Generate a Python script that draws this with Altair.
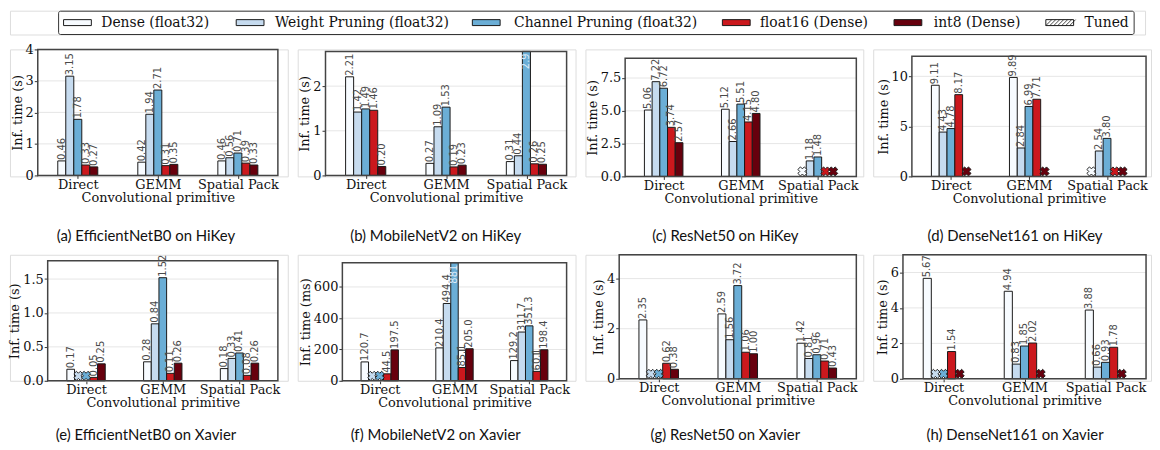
import altair as alt
import pandas as pd

# ---------------- data ----------------
groups = ["Direct", "GEMM", "Spatial Pack"]
series = ["Dense (float32)", "Weight Pruning (float32)", "Channel Pruning (float32)",
          "float16 (Dense)", "int8 (Dense)"]
series_colors = ["#f7fbff", "#c6dbef", "#6baed6", "#cb181d", "#67000d"]

# values per primitive (Direct, GEMM, Spatial Pack) in series order; None = failed (x marker)
effnet_hikey = [[0.46, 3.15, 1.78, 0.33, 0.27], [0.42, 1.94, 2.71, 0.31, 0.35], [0.46, 0.56, 0.71, 0.39, 0.33]]
mobilenet_hikey = [[2.21, 1.42, 1.49, 1.46, 0.20], [0.27, 1.09, 1.53, 0.19, 0.23], [0.31, 0.44, 2.9, 0.26, 0.25]]
resnet_hikey = [[5.06, 7.22, 6.72, 3.74, 2.57], [5.12, 2.66, 5.51, 4.15, 4.80], [None, 1.18, 1.48, None, None]]
densenet_hikey = [[9.11, 4.43, 4.78, 8.17, None], [9.89, 2.84, 6.99, 7.71, None], [None, 2.54, 3.80, None, None]]
effnet_xavier = [[0.17, None, None, 0.05, 0.25], [0.28, 0.84, 1.52, 0.11, 0.26], [0.18, 0.33, 0.41, 0.08, 0.26]]
mobilenet_xavier = [[120.7, None, None, 44.5, 197.5], [210.4, 494.4, 881.0, 85.1, 205.0], [129.2, 311.7, 351.3, 60.1, 198.4]]
resnet_xavier = [[2.35, None, None, 0.62, 0.38], [2.59, 1.56, 3.72, 1.06, 1.00], [1.42, 0.81, 0.96, 0.71, 0.43]]
densenet_xavier = [[5.67, None, None, 1.54, None], [4.94, 0.83, 1.85, 2.02, None], [3.88, 0.66, 0.93, 1.78, None]]

# tuned (hatched) bars visible behind the float16 bars
mobilenet_xavier_tuned = [[None] * 5, [None, None, None, 195.0, None], [None, None, None, 172.0, None]]

panel_values = [effnet_hikey, mobilenet_hikey, resnet_hikey, densenet_hikey,
                effnet_xavier, mobilenet_xavier, resnet_xavier, densenet_xavier]
panel_tuned = [None, None, None, None, None, mobilenet_xavier_tuned, None, None]
captions = ["(a) EfficientNetB0 on HiKey", "(b) MobileNetV2 on HiKey", "(c) ResNet50 on HiKey",
            "(d) DenseNet161 on HiKey", "(e) EfficientNetB0 on Xavier", "(f) MobileNetV2 on Xavier",
            "(g) ResNet50 on Xavier", "(h) DenseNet161 on Xavier"]
y_titles = ["Inf. time (s)"] * 5 + ["Inf. time (ms)"] + ["Inf. time (s)"] * 2
y_max = [4.0, 2.78, 9.0, 12.0, 1.77, 755.0, 4.95, 7.0]
y_ticks = [[0, 1, 2, 3, 4], [0, 1, 2], [0, 2.5, 5, 7.5], [0, 5, 10], [0, 0.5, 1, 1.5],
           [0, 200, 400, 600], [0, 2, 4], [0, 2, 4, 6]]
tick_fmt = ["d", "d", ".1f", "d", ".1f", "d", "d", "d"]
label_fmt = [".2f"] * 5 + [".1f"] + [".2f"] * 2
clip_fmt = [".1f", ".1f", ".1f", ".1f", ".1f", ".0f", ".1f", ".1f"]

# ---------------- layout (page pixels) ----------------
plot_left = [36, 324, 624, 911, 46, 341, 618, 902]
plot_w = [242, 243, 233, 236, 232, 226, 239, 245]
plot_top = [45, 47, 54, 52, 256, 258, 250, 250]
plot_h = [127, 125, 119, 121, 121, 119, 125, 125]
caption_top = [226, 425]
caption_center = [145, 435, 725, 1015]

CELL_LEFT = [8, 296, 584, 872]     # page x of each column's view
CELL_W = 280
CELL_GAP = 8
ROW_TOP = [45, 250]                # page y of each row's view
ROW_BOTTOM = [173, 377]
ROW_MARGIN_TOP = [13, 5]           # invisible extent above each row's view
ROW_EXTENT_BOTTOM = [245, 377]     # invisible extent below (page y)

BW = 0.1
X_DOMAIN = [-0.5, 2.5]
SERIF = "DejaVu Serif"
FRAME = "#444444"
ONE = pd.DataFrame({"k": [0]})


def make_df(vals, tuned, fmt, cfmt, ymax):
    rows = []
    for gi, g in enumerate(groups):
        for si, s in enumerate(series):
            v = vals[gi][si]
            xc = gi + (si - 2) * BW
            t = tuned[gi][si] if tuned else None
            clipped = v is not None and v > ymax
            lab = "" if v is None else format(v, cfmt if clipped else fmt)
            rows.append({"group": g, "series": s, "xc": xc, "xl": xc - BW / 2, "xr": xc + BW / 2,
                         "value": v, "tuned": t, "zero": 0.0, "failed": v is None,
                         "clipped": clipped, "label": lab})
    return pd.DataFrame(rows)


def make_panel(i):
    r, c = i // 4, i % 4
    V, Y = CELL_LEFT[c], ROW_TOP[r]
    VH = ROW_BOTTOM[r] - Y
    pl = plot_left[i] - V
    pr = pl + plot_w[i]
    pt = plot_top[i] - Y
    pb = pt + plot_h[i]
    df = make_df(panel_values[i], panel_tuned[i], label_fmt[i], clip_fmt[i], y_max[i])

    xscale = alt.Scale(domain=X_DOMAIN, range=[pl, pr], nice=False, zero=False)
    yscale = alt.Scale(domain=[0, y_max[i]], range=[pb, pt], nice=False, zero=True, clamp=True)
    xaxis = alt.Axis(values=[0, 1, 2], labelExpr="['Direct','GEMM','Spatial Pack'][datum.value]",
                     title="Convolutional primitive", grid=False, domain=False, tickSize=3,
                     tickColor="#333", labelPadding=0, titlePadding=0, labelOverlap=False,
                     labelFlush=False, labelFont=SERIF, labelFontSize=13, labelColor="#111",
                     titleFont=SERIF, titleFontSize=13, titleFontWeight="normal", titleColor="#111",
                     offset=-(VH - pb))
    yaxis = alt.Axis(values=y_ticks[i], format=tick_fmt[i], title=y_titles[i], grid=False,
                     domain=False, tickSize=3.5, tickColor="#333", labelPadding=1, titlePadding=1,
                     labelFont=SERIF, labelFontSize=13, labelColor="#111", titleFont=SERIF,
                     titleFontSize=13, titleFontWeight="normal", titleColor="#111", offset=-pl)
    fill = alt.Fill("series:N", scale=alt.Scale(domain=series, range=series_colors), legend=None)

    base = alt.Chart(df)
    layers = []
    # invisible extent of the cell (fixes the layout)
    layers.append(alt.Chart(ONE).mark_rect(opacity=0).encode(
        x=alt.value(0), x2=alt.value(CELL_W), y=alt.value(-ROW_MARGIN_TOP[r]),
        y2=alt.value(ROW_EXTENT_BOTTOM[r] - Y)))
    # horizontal grid lines at the tick values
    grid_df = pd.DataFrame({"t": y_ticks[i]})
    layers.append(alt.Chart(grid_df).mark_rule(stroke="#e6e6e6", strokeWidth=1).encode(
        y=alt.Y("t:Q", scale=yscale, axis=yaxis), x=alt.value(pl), x2=alt.value(pr)))
    if panel_tuned[i] is not None:
        layers.append(base.transform_filter("datum.tuned != null").mark_bar(
            fill="white", stroke="#1a1a1a", strokeWidth=1).encode(
            x=alt.X("xl:Q", scale=xscale, axis=xaxis), x2="xr:Q",
            y=alt.Y("tuned:Q", scale=yscale, axis=yaxis, stack=None), y2="zero:Q"))
    layers.append(base.transform_filter("datum.value != null").mark_bar(
        stroke="#1a1a1a", strokeWidth=1).encode(
        x=alt.X("xl:Q", scale=xscale, axis=xaxis), x2="xr:Q",
        y=alt.Y("value:Q", scale=yscale, axis=yaxis, stack=None), y2="zero:Q", fill=fill))
    layers.append(base.transform_filter("datum.value != null && !datum.clipped").mark_text(
        angle=270, align="left", baseline="middle", dx=1, font="DejaVu Sans", fontSize=10,
        color="#4a4a4a").encode(
        x=alt.X("xc:Q", scale=xscale, axis=xaxis),
        y=alt.Y("value:Q", scale=yscale, axis=yaxis, stack=None), text="label:N"))
    layers.append(base.transform_filter("datum.clipped").mark_text(
        angle=270, align="right", baseline="middle", dx=-2, font="DejaVu Sans", fontSize=10,
        color="#deebf7").encode(
        x=alt.X("xc:Q", scale=xscale, axis=xaxis), y=alt.value(pt), text="label:N"))
    layers.append(base.transform_filter("datum.failed").mark_point(
        shape="cross", angle=45, filled=True, size=85, stroke="#1a1a1a", strokeWidth=0.9,
        opacity=1).encode(x=alt.X("xc:Q", scale=xscale, axis=xaxis), y=alt.value(pb - 5),
                          fill=fill))
    # plot frame
    layers.append(alt.Chart(ONE).mark_rect(fill="transparent", stroke=FRAME, strokeWidth=1.5).encode(
        x=alt.value(pl), x2=alt.value(pr), y=alt.value(pt), y2=alt.value(pb)))
    # sub-figure caption
    layers.append(alt.Chart(ONE).mark_text(align="center", baseline="top", font="Lato",
                                           fontSize=15, color="#111").encode(
        x=alt.value(caption_center[c] - V), y=alt.value(caption_top[r] - Y),
        text=alt.value(captions[i])))
    return alt.layer(*layers).properties(width=CELL_W, height=VH)


# ---------------- legend ----------------
legend_swatch_x = [62, 236, 474, 726, 899, 1052]
legend_text_x = [100, 275, 516, 764, 939, 1091]
legend_labels = series + ["Tuned"]
legend_fills = series_colors + ["white"]
LW = 1144
lx = alt.Scale(domain=[0, LW], nice=False, zero=False)
leg_df = pd.DataFrame({"label": legend_labels, "fill": legend_fills,
                       "sx": [v - 8 for v in legend_swatch_x],
                       "sx2": [v - 8 + 28 for v in legend_swatch_x],
                       "tx": [v - 8 for v in legend_text_x]})
ext = alt.Chart(ONE).mark_rect(opacity=0).encode(
    x=alt.value(0), x2=alt.value(LW), y=alt.value(0), y2=alt.value(24))
box = alt.Chart(ONE).mark_rect(
    fill="white", stroke="#333", strokeWidth=1, cornerRadius=2).encode(
    x=alt.value(57 - 8), x2=alt.value(1141 - 8), y=alt.value(0.5), y2=alt.value(24))
sw = alt.Chart(leg_df).mark_rect(stroke="#1a1a1a", strokeWidth=1).encode(
    x=alt.X("sx:Q", scale=lx, axis=None), x2="sx2:Q", y=alt.value(9), y2=alt.value(15),
    fill=alt.Fill("fill:N", scale=None, legend=None))
txt = alt.Chart(leg_df).mark_text(align="left", baseline="middle", font=SERIF, fontSize=14,
                                  color="#111").encode(
    x=alt.X("tx:Q", scale=lx, axis=None), y=alt.value(12.5), text="label:N")
hx0 = legend_swatch_x[-1] - 8
hatch_df = pd.DataFrame({"a": [hx0 + k * 4 for k in range(7)],
                         "b": [hx0 + k * 4 + 6 for k in range(7)]})
hatch = alt.Chart(hatch_df).mark_rule(stroke="#1a1a1a", strokeWidth=0.8).encode(
    x=alt.X("a:Q", scale=lx, axis=None), x2="b:Q", y=alt.value(15), y2=alt.value(9))
legend = alt.layer(ext, box, sw, hatch, txt).properties(width=LW, height=24)

# ---------------- grid ----------------
row1 = alt.hconcat(*[make_panel(i) for i in range(4)], spacing=CELL_GAP)
row2 = alt.hconcat(*[make_panel(i) for i in range(4, 8)], spacing=CELL_GAP)

chart = alt.vconcat(legend, row1, row2, spacing=0).properties(
    padding=0).configure_view(strokeWidth=0).configure(background="white")

chart.save("out.html", embed_options={"renderer": "svg", "actions": False})
